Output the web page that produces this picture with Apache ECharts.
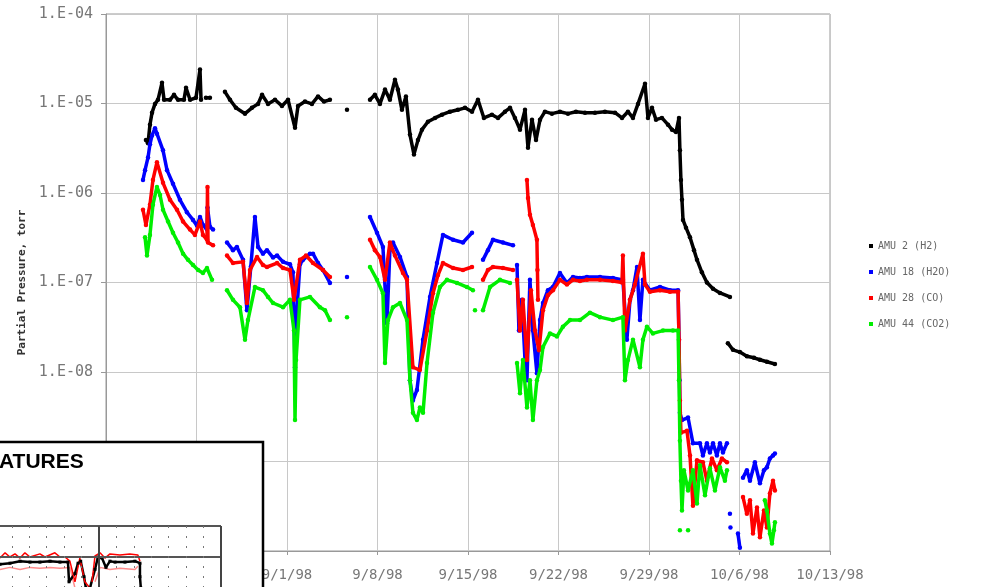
<!DOCTYPE html>
<html><head><meta charset="utf-8">
<script src="https://cdn.jsdelivr.net/npm/echarts@6/dist/echarts.min.js"></script>
<style>html,body{margin:0;padding:0;background:#fff}#c{width:983px;height:587px}</style>
</head><body><div id="c"></div>
<script>
// x = days since 8/18/98, y = partial pressure (torr); null = gap in record
const seriesNames = ['AMU 2 (H2)', 'AMU 18 (H2O)', 'AMU 28 (CO)', 'AMU 44 (CO2)'];
const seriesColors = ['#000000', '#0000ff', '#ff0000', '#00ee00'];

const amu2 = [
 [3.09,3.9e-6],[3.25,3.6e-6],[3.40,5.8e-6],[3.56,7.9e-6],[3.79,9.9e-6],[4.02,1.1e-5],[4.33,1.7e-5],[4.49,1.1e-5],[4.95,1.1e-5],[5.26,1.25e-5],[5.57,1.1e-5],[6.03,1.1e-5],[6.19,1.5e-5],[6.50,1.1e-5],[6.96,1.16e-5],[7.27,2.4e-5],[7.35,1.1e-5],
 null,[7.73,1.16e-5],[8.04,1.16e-5],
 null,[9.20,1.35e-5],[9.59,1.1e-5],[10.05,8.95e-6],[10.75,7.7e-6],[11.29,8.95e-6],[11.76,9.9e-6],[12.07,1.25e-5],[12.53,9.9e-6],[13.07,1.1e-5],[13.61,9.4e-6],[14.08,1.1e-5],[14.62,5.35e-6],[14.85,9.4e-6],[15.39,1.05e-5],[15.93,9.9e-6],[16.40,1.2e-5],[16.86,1.05e-5],[17.32,1.1e-5],
 null,[18.64,8.5e-6],
 null,[20.42,1.1e-5],[20.80,1.25e-5],[21.19,9.9e-6],[21.58,1.43e-5],[21.96,1.1e-5],[22.35,1.84e-5],[22.58,1.43e-5],[22.89,8.5e-6],[23.20,1.2e-5],[23.51,4.5e-6],[23.82,2.7e-6],[24.13,3.9e-6],[24.44,5.1e-6],[24.90,6.25e-6],[25.45,6.9e-6],[25.99,7.5e-6],[26.60,8.1e-6],[27.22,8.5e-6],[27.77,8.95e-6],[28.31,8.1e-6],[28.77,1.1e-5],[29.23,6.9e-6],[29.85,7.5e-6],[30.32,6.9e-6],[30.86,8.1e-6],[31.25,8.95e-6],[31.63,6.9e-6],[32.02,5.1e-6],[32.41,8.5e-6],[32.64,3.2e-6],[32.95,6.6e-6],[33.26,3.9e-6],[33.57,6.6e-6],[33.95,8.1e-6],[34.49,7.7e-6],[35.11,8.1e-6],[35.73,7.7e-6],[36.35,8.1e-6],[37.05,7.9e-6],[37.82,7.9e-6],[38.59,8.1e-6],[39.37,7.9e-6],[39.91,6.9e-6],[40.37,8.1e-6],[40.76,6.9e-6],[41.15,9.9e-6],[41.69,1.66e-5],[41.92,6.9e-6],[42.23,8.95e-6],[42.54,6.6e-6],[43.00,6.9e-6],[43.47,5.8e-6],[43.78,5.1e-6],[44.09,4.8e-6],[44.32,6.9e-6],[44.39,3.0e-6],[44.47,1.4e-6],[44.55,8.4e-7],[44.63,5.0e-7],[44.86,4.1e-7],[45.17,3.2e-7],[45.48,2.3e-7],[45.71,1.8e-7],[46.09,1.3e-7],[46.48,1.0e-7],[46.95,8.5e-8],[47.49,7.65e-8],[48.26,6.9e-8],
 null,[48.10,2.1e-8],[48.49,1.77e-8],[49.03,1.67e-8],[49.57,1.5e-8],[50.12,1.44e-8],[50.58,1.37e-8],[51.12,1.3e-8],[51.74,1.23e-8]
];

const amu18 = [
 [2.86,1.4e-6],[3.02,1.8e-6],[3.25,2.5e-6],[3.40,3.5e-6],[3.56,4.4e-6],[3.79,5.3e-6],[3.94,4.6e-6],[4.41,3.0e-6],[4.72,1.8e-6],[5.18,1.27e-6],[5.72,8.4e-7],[6.26,6.1e-7],[6.73,5.0e-7],[7.04,4.3e-7],[7.27,5.4e-7],[7.50,4.4e-7],[7.81,3.9e-7],[7.85,6.9e-7],[8.04,4.2e-7],[8.28,3.9e-7],
 null,[9.36,2.8e-7],[9.82,2.3e-7],[10.13,2.5e-7],[10.60,1.79e-7],[10.90,4.9e-8],[11.20,1.5e-7],[11.52,5.4e-7],[11.76,2.5e-7],[12.14,2.1e-7],[12.45,2.3e-7],[12.92,1.9e-7],[13.23,2.0e-7],[13.69,1.7e-7],[14.23,1.6e-7],[14.46,1.3e-7],[14.62,1.13e-8],[14.77,5.0e-8],[15.00,1.6e-7],[15.24,1.79e-7],[15.78,2.1e-7],[16.01,2.1e-7],[16.40,1.65e-7],[16.78,1.38e-7],[17.32,9.9e-8],
 null,[18.64,1.15e-7],
 null,[20.42,5.4e-7],[20.96,3.6e-7],[21.42,2.5e-7],[21.73,3.5e-8],[21.96,2.3e-7],[22.20,2.8e-7],[22.74,1.93e-7],[23.28,1.15e-7],[23.51,8.1e-9],[23.74,4.8e-9],[24.05,6.3e-9],[24.52,2.3e-8],[25.06,6.9e-8],[25.60,1.65e-7],[26.06,3.4e-7],[26.84,3.0e-7],[27.61,2.8e-7],[28.31,3.6e-7],
 null,[29.16,1.79e-7],[29.54,2.3e-7],[29.93,3.0e-7],[30.70,2.8e-7],[31.48,2.6e-7],
 null,[31.79,1.57e-7],[31.94,2.9e-8],[32.17,6.4e-8],[32.41,1.36e-8],[32.56,8.1e-9],[32.79,1.07e-7],[33.02,2.9e-8],[33.33,9.7e-9],[33.57,3.8e-8],[33.80,5.9e-8],[34.18,8.2e-8],[34.57,8.9e-8],[35.11,1.28e-7],[35.65,9.9e-8],[36.12,1.15e-7],[36.66,1.12e-7],[37.20,1.15e-7],[38.21,1.15e-7],[39.21,1.12e-7],[39.98,1.07e-7],[40.29,2.3e-8],[40.53,6.4e-8],[40.76,8.2e-8],[41.07,1.49e-7],[41.30,3.8e-8],[41.53,1.07e-7],[42.07,8.2e-8],[42.85,8.9e-8],[43.62,8.2e-8],[44.25,8.2e-8],[44.32,2.3e-8],[44.36,8.1e-9],[44.39,3.5e-9],[44.55,2.9e-9],[45.02,3.1e-9],[45.40,1.6e-9],[45.94,1.6e-9],[46.17,1.17e-9],[46.48,1.6e-9],[46.71,1.26e-9],[46.95,1.6e-9],[47.25,1.17e-9],[47.49,1.6e-9],[47.72,1.26e-9],[48.03,1.6e-9],
 null,[48.26,2.6e-10],
 null,[48.30,1.83e-10],
 null,[48.88,1.57e-10],[49.03,1.09e-10],
 null,[49.27,6.6e-10],[49.57,8.0e-10],[49.81,6.1e-10],[50.19,9.8e-10],[50.58,5.7e-10],[50.89,8.0e-10],[51.12,8.6e-10],[51.35,1.08e-9],[51.59,1.17e-9],[51.74,1.23e-9]
];

const amu28 = [
 [2.86,6.5e-7],[3.09,4.4e-7],[3.40,7.4e-7],[3.63,1.4e-6],[3.94,2.2e-6],[4.41,1.3e-6],[4.95,8.4e-7],[5.49,6.5e-7],[5.96,4.8e-7],[6.50,3.9e-7],[6.88,3.4e-7],[7.27,4.8e-7],[7.50,3.4e-7],[7.81,3.0e-7],[7.85,1.17e-6],[7.89,2.8e-7],[8.28,2.6e-7],
 null,[9.36,2.0e-7],[9.82,1.65e-7],[10.60,1.7e-7],[10.90,5.9e-8],[11.14,1.38e-7],[11.68,1.93e-7],[12.14,1.57e-7],[12.45,1.49e-7],[13.23,1.65e-7],[13.69,1.45e-7],[14.23,1.38e-7],[14.54,6.4e-8],[15.00,1.79e-7],[15.47,2.0e-7],[16.01,1.65e-7],[16.78,1.38e-7],[17.32,1.15e-7],
 null,[20.42,3.0e-7],[20.80,2.3e-7],[21.19,1.93e-7],[21.58,1.07e-7],[21.96,2.8e-7],[22.35,2.0e-7],[22.97,1.28e-7],[23.28,1.07e-7],[23.74,1.13e-8],[24.28,1.05e-8],[24.83,2.9e-8],[25.29,7.6e-8],[25.68,1.21e-7],[26.06,1.65e-7],[26.84,1.45e-7],[27.61,1.38e-7],[28.31,1.49e-7],
 null,[29.16,1.07e-7],[29.54,1.38e-7],[29.93,1.49e-7],[30.70,1.45e-7],[31.48,1.38e-7],
 null,[32.56,1.4e-6],[32.64,8.8e-7],[32.79,5.7e-7],[33.02,4.4e-7],[33.33,3.0e-7],[33.37,1.38e-7],[33.41,6.4e-8],
 null,[31.79,1.07e-7],[32.02,2.9e-8],[32.25,6.4e-8],[32.56,1.36e-8],[32.87,8.2e-8],[33.18,2.9e-8],[33.49,1.75e-8],[33.80,4.9e-8],[34.18,7.2e-8],[34.57,8.2e-8],[35.11,1.07e-7],[35.65,9.5e-8],[36.12,1.07e-7],[36.66,1.04e-7],[37.20,1.07e-7],[38.21,1.07e-7],[39.21,1.04e-7],[39.91,1.0e-7],[39.98,2.0e-7],[40.14,2.9e-8],[40.53,6.4e-8],[40.91,9.5e-8],[41.53,2.1e-7],[41.69,9.5e-8],[42.07,7.9e-8],[42.85,8.2e-8],[43.62,7.9e-8],[44.25,7.9e-8],[44.32,2.3e-8],[44.39,4.8e-9],[44.47,2.1e-9],[44.94,2.2e-9],[45.17,1.17e-9],[45.40,3.2e-10],[45.71,1.03e-9],[46.17,9.8e-10],[46.48,6.1e-10],[46.87,1.08e-9],[47.25,8.0e-10],[47.64,1.08e-9],[48.03,9.8e-10],
 null,[49.27,4.0e-10],[49.57,2.6e-10],[49.81,3.7e-10],[50.04,1.57e-10],[50.35,3.07e-10],[50.58,1.42e-10],[50.89,2.84e-10],[51.12,1.83e-10],[51.35,4.4e-10],[51.59,6.1e-10],[51.74,4.75e-10]
];

const amu44 = [
 [3.02,3.2e-7],[3.17,2.0e-7],[3.40,3.4e-7],[3.63,7.4e-7],[3.94,1.17e-6],[4.18,9.5e-7],[4.41,6.5e-7],[4.80,4.8e-7],[5.18,3.6e-7],[5.57,2.8e-7],[5.96,2.1e-7],[6.34,1.79e-7],[6.73,1.57e-7],[7.12,1.38e-7],[7.50,1.28e-7],[7.81,1.45e-7],[8.20,1.07e-7],
 null,[9.36,8.2e-8],[9.82,6.4e-8],[10.36,5.3e-8],[10.75,2.3e-8],[10.98,3.8e-8],[11.52,8.9e-8],[12.14,8.2e-8],[12.53,6.9e-8],[12.92,5.9e-8],[13.69,5.3e-8],[14.23,6.4e-8],[14.54,2.9e-8],[14.62,2.9e-9],[14.70,1.36e-8],[15.00,6.4e-8],[15.78,6.9e-8],[16.55,5.3e-8],[16.94,4.9e-8],[17.32,3.8e-8],
 null,[18.64,4.1e-8],
 null,[20.42,1.49e-7],[20.96,1.07e-7],[21.42,7.6e-8],[21.58,1.26e-8],[21.81,3.8e-8],[22.20,5.3e-8],[22.74,5.9e-8],[23.28,3.8e-8],[23.51,8.1e-9],[23.74,3.5e-9],[24.05,2.9e-9],[24.28,4.0e-9],[24.52,3.5e-9],[24.83,1.26e-8],[25.29,4.6e-8],[25.83,8.9e-8],[26.37,1.07e-7],[27.15,9.9e-8],[27.92,8.9e-8],[28.38,8.2e-8],
 null,[28.54,4.9e-8],
 null,[29.16,4.9e-8],[29.70,8.9e-8],[30.47,1.07e-7],[31.25,9.9e-8],
 null,[31.79,1.26e-8],[32.02,5.8e-9],[32.25,1.36e-8],[32.56,4.0e-9],[32.79,8.1e-9],[33.02,2.9e-9],[33.33,8.1e-9],[33.57,1.05e-8],[33.80,1.9e-8],[34.34,2.7e-8],[34.88,2.5e-8],[35.34,3.2e-8],[35.89,3.8e-8],[36.66,3.8e-8],[37.43,4.6e-8],[38.21,4.1e-8],[39.21,3.8e-8],[39.98,4.1e-8],[40.14,8.1e-9],[40.37,1.36e-8],[40.76,2.3e-8],[41.30,1.13e-8],[41.53,2.3e-8],[41.84,3.2e-8],[42.30,2.7e-8],[43.08,2.9e-8],[43.85,2.9e-8],[44.25,2.9e-8],[44.32,8.1e-9],[44.39,1.7e-9],[44.47,6.1e-10],[44.55,2.84e-10],[44.70,8.0e-10],[45.02,4.75e-10],[45.40,8.0e-10],[45.71,3.4e-10],[45.94,9.1e-10],[46.33,4.2e-10],[46.71,8.4e-10],[47.10,4.75e-10],[47.49,8.6e-10],[47.87,6.1e-10],[48.03,8.0e-10],
 null,[44.39,1.7e-10],
 null,[45.02,1.7e-10],
 null,[50.96,3.7e-10],[51.12,2.84e-10],[51.35,1.57e-10],[51.51,1.21e-10],[51.66,1.7e-10],[51.74,2.1e-10]
];

// inset ("...ATURES") : x = days, y = temperature units
const insetTitle = 'ATURES';
const insetBlack = [[1.32,15.3],[1.89,16],[2.47,17.3],[3.04,16.7],[3.61,16.7],[4.19,17.3],[4.76,16.7],[5.22,16.7],[5.28,4],[5.62,9.3],[5.80,16],[5.95,17.3],[6.14,7.3],[6.25,0],null,[6.48,0],[6.77,12],[6.94,20],[7.17,19.3],[7.40,13.3],[7.63,17.3],[7.92,16.7],[8.49,16.7],[9.06,17.3],[9.35,16],[9.35,7.3],[9.40,0]];
const insetRed = [[1.32,19.3],[1.61,22.7],[1.89,20],[2.18,22],[2.47,19.3],[2.75,22.7],[3.04,20],[3.61,22],[3.90,20],[4.47,22.7],[4.76,20],[5.05,20],[5.33,17.3],[5.62,4],[5.90,19.3],[6.19,4],[6.48,0],null,[6.60,4],[6.77,20.7],[7.06,22.7],[7.34,19.3],[7.63,22],[8.20,21.3],[8.77,22],[9.23,21.3],[9.35,17.3]];
const insetPink = [[1.32,12],[1.89,13.3],[2.47,12],[3.04,13.3],[3.61,12.7],[4.19,13.3],[4.76,12.7],[5.33,13.3],[5.62,0],null,[6.77,4],[7.06,13.3],[7.63,12],[8.20,12.7],[9.06,12],[9.23,14]];

function segments(arr){const out=[];let cur=[];arr.forEach(p=>{if(p===null){if(cur.length)out.push(cur);cur=[];}else cur.push(p);});if(cur.length)out.push(cur);return out;}
function dateLabel(v){const d=new Date(1998,7,18+Math.round(v));return (d.getMonth()+1)+'/'+d.getDate()+'/98';}
function expLabel(v){const e=Math.round(Math.log10(v));return '1.E'+(e<0?'-':'+')+String(Math.abs(e)).padStart(2,'0');}

const mainData=[amu2,amu18,amu28,amu44];
const series=[];
mainData.forEach((arr,i)=>{
  segments(arr).forEach(seg=>{
    series.push({type:'line',name:seriesNames[i],data:seg,xAxisIndex:0,yAxisIndex:0,
      showSymbol:true,symbol:'circle',symbolSize:4.5,
      lineStyle:{width:3.5,color:seriesColors[i]},itemStyle:{color:seriesColors[i]},
      emphasis:{disabled:true},z:2+i});
  });
});
const insetDefs=[[insetPink,'#ff8c8c',1.5,0],[insetBlack,'#000000',2.5,3],[insetRed,'#ff0000',1.5,0]];
insetDefs.forEach(([arr,col,w,sym])=>{
  segments(arr).forEach(seg=>{
    series.push({type:'line',name:'inset',data:seg,xAxisIndex:1,yAxisIndex:1,
      showSymbol:sym>0,symbol:'rect',symbolSize:sym,
      lineStyle:{width:w,color:col},itemStyle:{color:col},emphasis:{disabled:true},z:30});
  });
});

const mono='DejaVu Sans Mono';
const chart=echarts.init(document.getElementById('c'),null,{renderer:'canvas'});
chart.setOption({
  animation:false,
  backgroundColor:'#ffffff',
  grid:[
    {left:106,top:14,width:724,height:537,show:true,borderColor:'#999',borderWidth:1},
    {left:-23,top:526,width:244,height:62,show:false,z:30,outerBoundsMode:'none'}
  ],
  xAxis:[
    {type:'value',gridIndex:0,min:0,max:56,interval:7,
     axisLine:{show:true,lineStyle:{color:'#999'}},
     axisTick:{show:true,length:4,lineStyle:{color:'#999'}},
     axisLabel:{formatter:dateLabel,color:'#777',fontFamily:mono,fontSize:14,margin:17},
     splitLine:{show:true,lineStyle:{color:'#c8c8c8',width:1}}},
    {type:'value',gridIndex:1,min:0,max:14,interval:7,z:31,
     axisLine:{show:false},axisTick:{show:false},axisLabel:{show:false},
     minorTick:{show:false,splitNumber:7},
     minorSplitLine:{show:true,lineStyle:{color:'#777',width:1,type:[2,8]}},
     splitLine:{show:true,lineStyle:{color:'#444',width:2}}}
  ],
  yAxis:[
    {type:'log',gridIndex:0,logBase:10,min:1e-10,max:1e-4,interval:1,
     name:'Partial Pressure, torr',nameLocation:'middle',nameGap:70,nameRotate:90,
     nameTextStyle:{fontFamily:mono,fontWeight:'bold',fontSize:11,color:'#333'},
     axisLine:{show:true,lineStyle:{color:'#999'}},
     axisTick:{show:true,length:5,lineStyle:{color:'#999'}},
     minorTick:{show:false},
     axisLabel:{formatter:expLabel,color:'#777',fontFamily:mono,fontSize:15,margin:13},
     splitLine:{show:true,lineStyle:{color:'#c8c8c8',width:1}}},
    {type:'value',gridIndex:1,min:0,max:40,interval:20,z:31,
     axisLine:{show:false},axisTick:{show:false},axisLabel:{show:false},
     splitLine:{show:true,lineStyle:{color:'#555',width:2}}}
  ],
  legend:{orient:'vertical',left:864,top:236,itemGap:16,itemWidth:4,itemHeight:4,icon:'rect',
    data:seriesNames,selectedMode:false,
    textStyle:{fontFamily:mono,fontSize:10,color:'#666'}},
  graphic:[
    {type:'rect',z:20,zlevel:0,shape:{x:-4,y:442,width:267,height:160},
     style:{fill:'#ffffff',stroke:'#000000',lineWidth:2.5}},
    {type:'text',z:21,left:-1,top:452,
     style:{text:insetTitle,fill:'#000',font:'bold 21px "Liberation Sans"'}}
  ],
  series:series
});
</script></body></html>
